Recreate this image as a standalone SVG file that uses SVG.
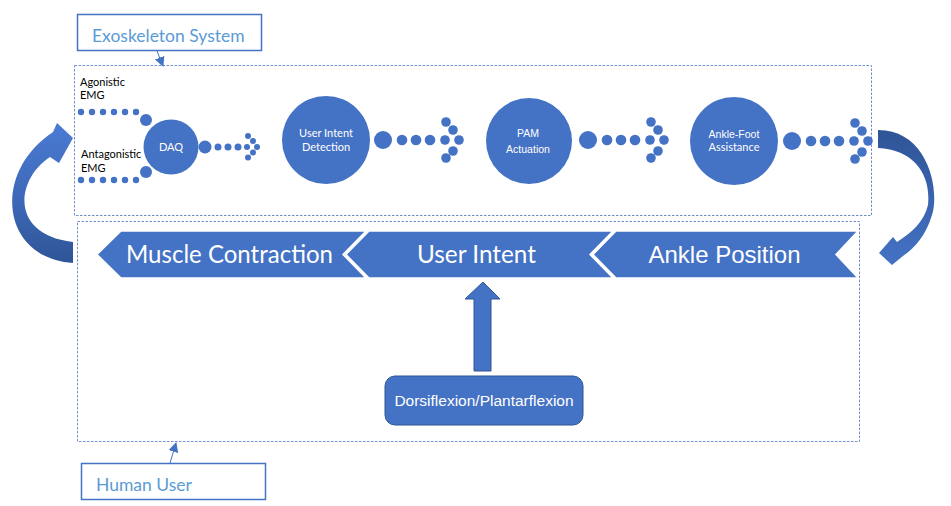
<svg xmlns="http://www.w3.org/2000/svg" width="951" height="506" viewBox="0 0 951 506">
<defs>
<style>
.blue{fill:#4472c4}
.dash{fill:none;stroke:#6f8fcb;stroke-width:1;stroke-dasharray:2.5 1.5}
.lbl{fill:#ffffff;font-family:Lato,"Open Sans",sans-serif;font-size:11px;text-anchor:middle}
.lbla{fill:#ffffff;font-family:"Liberation Sans",Arial,sans-serif;font-size:10.5px;text-anchor:middle}
.emg{fill:#000000;font-family:Lato,"Open Sans",sans-serif;font-size:11px}
.title{fill:#5b9bd5;font-family:Lato,"Open Sans",sans-serif;font-size:17.5px}
.band{fill:#4472c4;stroke:#ffffff;stroke-width:1.5}
.bandt{fill:#ffffff;font-family:Lato,"Open Sans",sans-serif;font-size:25px;text-anchor:middle}
.bandta{fill:#ffffff;font-family:"Liberation Sans",Arial,sans-serif;font-size:24px;text-anchor:middle}
</style>
<g id="headL" class="blue">
<circle cx="0" cy="0" r="4.8"/><circle cx="1" cy="-18" r="4.8"/><circle cx="8" cy="-10" r="4.8"/>
<circle cx="14" cy="0" r="4.8"/><circle cx="8" cy="11" r="4.8"/><circle cx="1" cy="18" r="4.8"/>
<circle cx="-62" cy="0" r="9"/><circle cx="-43" cy="0" r="5.3"/><circle cx="-29" cy="0" r="5.3"/><circle cx="-15" cy="0" r="5.3"/>
</g>
<g id="headS" class="blue">
<circle cx="0" cy="0" r="3"/><circle cx="1" cy="-11" r="3"/><circle cx="6" cy="-6" r="3"/>
<circle cx="10" cy="0" r="3"/><circle cx="6" cy="5.5" r="3"/><circle cx="1" cy="10.5" r="3"/>
<circle cx="-42" cy="0" r="6.5"/><circle cx="-29" cy="0" r="3.5"/><circle cx="-19" cy="0" r="3.5"/><circle cx="-9" cy="0" r="3.5"/>
</g>
<g id="emgDots" class="blue">
<circle cx="81" cy="0" r="3.2"/><circle cx="92" cy="0" r="3.2"/><circle cx="103" cy="0" r="3.2"/>
<circle cx="114" cy="0" r="3.2"/><circle cx="125" cy="0" r="3.2"/><circle cx="136" cy="0" r="3.2"/>
</g>
<linearGradient id="gL" x1="0" y1="0" x2="0" y2="1">
<stop offset="0" stop-color="#4a7bd3"/><stop offset="0.55" stop-color="#3d68b8"/><stop offset="1" stop-color="#2f5597"/>
</linearGradient>
<linearGradient id="gR" x1="0" y1="0" x2="0" y2="1">
<stop offset="0" stop-color="#2f5597"/><stop offset="0.5" stop-color="#3a63ae"/><stop offset="1" stop-color="#4472c4"/>
</linearGradient>
<marker id="arr" viewBox="0 0 10 10" refX="9" refY="5" markerWidth="10" markerHeight="10" markerUnits="userSpaceOnUse" orient="auto">
<path d="M0,0 L10,5 L0,10 Z" fill="#4472c4"/>
</marker>
</defs>
<rect width="951" height="506" fill="#ffffff"/>

<!-- containers -->
<rect id="exo-container" class="dash" x="74.5" y="65.5" width="797" height="150"/>
<rect id="human-container" class="dash" x="77.5" y="221.5" width="782" height="220"/>

<g id="exo-label">
<rect x="77.5" y="14.5" width="184" height="36" fill="#ffffff" stroke="#4472c4" stroke-width="1.5"/>
<text class="title" x="92" y="42">Exoskeleton System</text>
</g>
<g id="human-label">
<rect x="81.5" y="463.5" width="184" height="36" fill="#ffffff" stroke="#4472c4" stroke-width="1.5"/>
<text class="title" x="96" y="491">Human User</text>
</g>

<!-- EMG inputs -->
<g id="emg-agonistic">
<text class="emg" x="80" y="86">Agonistic</text>
<text class="emg" x="80" y="99">EMG</text>
<use href="#emgDots" y="112"/>
<circle class="blue" cx="146" cy="120" r="6"/>
</g>
<g id="emg-antagonistic">
<text class="emg" x="81" y="158">Antagonistic</text>
<text class="emg" x="81" y="172">EMG</text>
<use href="#emgDots" y="180"/>
<circle class="blue" cx="146" cy="172" r="6"/>
</g>

<!-- process nodes -->
<g id="daq">
<circle class="blue" cx="171" cy="147" r="27.5"/>
<text class="lbl" x="171" y="151">DAQ</text>
</g>
<g id="user-intent-detection">
<circle class="blue" cx="326" cy="140" r="44"/>
<text class="lbl" x="326" y="137">User Intent</text>
<text class="lbl" x="326" y="151">Detection</text>
</g>
<g id="pam-actuation">
<circle class="blue" cx="529" cy="141" r="43"/>
<text class="lbla" x="528" y="137">PAM</text>
<text class="lbla" x="528" y="153">Actuation</text>
</g>
<g id="ankle-foot-assistance">
<circle class="blue" cx="734" cy="141" r="44"/>
<text class="lbla" x="734" y="138">Ankle-Foot</text>
<text class="lbl" x="734" y="151">Assistance</text>
</g>

<!-- chevron band -->
<g id="muscle-contraction">
<polygon class="band" points="121,231 366,231 343,254.5 366,278 121,278 97,254.5"/>
<text class="bandt" x="229.5" y="263" textLength="207" lengthAdjust="spacingAndGlyphs">Muscle Contraction</text>
</g>
<g id="user-intent">
<polygon class="band" points="369,231 613,231 590,254.5 613,278 369,278 346,254.5"/>
<text class="bandt" x="476.5" y="263" textLength="119" lengthAdjust="spacingAndGlyphs">User Intent</text>
</g>
<g id="ankle-position">
<polygon class="band" points="616,231 858,231 836,254.5 858,278 616,278 593,254.5"/>
<text class="bandta" x="724.5" y="263">Ankle Position</text>
</g>

<g id="dorsi-plantar">
<rect x="385" y="376" width="198" height="49" rx="10" fill="#4472c4" stroke="#2f5597" stroke-width="1"/>
<text x="484" y="406" fill="#ffffff" font-family="Liberation Sans, Arial, sans-serif" font-size="15.5" text-anchor="middle">Dorsiflexion/Plantarflexion</text>
</g>

<!-- connectors -->
<g id="connectors">
<use href="#headS" x="247" y="147"/>
<use href="#headL" x="445" y="140"/>
<use href="#headL" x="650" y="140"/>
<use href="#headL" x="854" y="141"/>
<path d="M474,371 L474,299 L465,299 L483,282 L500,299 L491,299 L491,371 Z" fill="#4472c4" stroke="#2f5597" stroke-width="1"/>
<path d="M157,51 L163,66" fill="none" stroke="#4472c4" stroke-width="1" marker-end="url(#arr)"/>
<path d="M170,463 L176,443" fill="none" stroke="#4472c4" stroke-width="1" marker-end="url(#arr)"/>
<path d="M73,263 C0,258 -8,172 53,132 L57,123 L73,138 L59,163 L50,157 C15,180 10,235 73,242 Z" fill="url(#gL)"/>
<path d="M878,130 C928,130 940,190 932,215 C926,235 915,248 903,256 L892,265 L879,253 L893,237 L897,242 C912,232 924,222 928,205 C931,175 915,150 878,148 Z" fill="url(#gR)"/>
</g>
</svg>
